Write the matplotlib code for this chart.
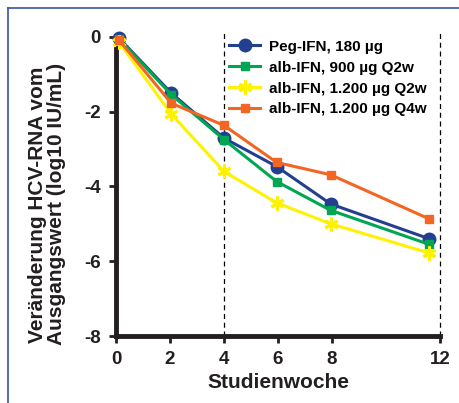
import matplotlib.pyplot as plt
from matplotlib.lines import Line2D

plt.rcParams["font.family"] = ["Liberation Sans", "DejaVu Sans"]
plt.rcParams["font.weight"] = "bold"
plt.rcParams["axes.unicode_minus"] = False

weeks = [0.1, 2.05, 4.0, 5.95, 7.95, 11.6]
peg_180 = [-0.03, -1.51, -2.71, -3.47, -4.47, -5.40]
alb_900_q2w = [-0.05, -1.55, -2.75, -3.87, -4.64, -5.55]
alb_1200_q2w = [-0.13, -2.07, -3.60, -4.44, -5.00, -5.78]
alb_1200_q4w = [-0.08, -1.78, -2.37, -3.36, -3.69, -4.87]

series_labels = [
    "Peg-IFN, 180 µg",
    "alb-IFN, 900 µg Q2w",
    "alb-IFN, 1.200 µg Q2w",
    "alb-IFN, 1.200 µg Q4w",
]
x_ticks = [0, 2, 4, 6, 8, 12]
y_ticks = [0, -2, -4, -6, -8]
dashed_weeks = [4, 12]

fig = plt.figure(figsize=(4.59, 4.03), dpi=100)
ax = fig.add_axes([0.2527, 0.166, 0.706, 0.743])

# thin blue frame round the figure (only top/left visible)
fig.add_artist(Line2D([8 / 459, 8 / 459], [0, 1 - 8 / 403], color="#3556A6", lw=1.2))
fig.add_artist(Line2D([8 / 459, 1], [1 - 8 / 403, 1 - 8 / 403], color="#3556A6", lw=1.2))

for xv in dashed_weeks:
    ax.plot([xv, xv], [-8, 0.1], color="black", lw=0.9, ls=(0, (4, 3)), clip_on=False, zorder=1)

styles = [
    (peg_180, "#233F90", "o", 9, 1),
    (alb_900_q2w, "#00A651", "s", 6, 1),
    (alb_1200_q2w, "#FFF200", (6, 2, 0), 10, 2.2),
    (alb_1200_q4w, "#F26522", "s", 6, 1),
]
for (vals, col, mk, ms, mew), lab in zip(styles, series_labels):
    ax.plot(weeks, vals, color=col, marker=mk, ms=ms, lw=2.2, mew=mew,
            label=lab, clip_on=False, zorder=3)

ax.set_xlim(0, 12)
ax.set_ylim(-8, 0)
ax.set_xticks(x_ticks)
ax.set_yticks(y_ticks)
ax.tick_params(labelsize=13.5, width=2, length=5, pad=6, colors="#231F20")
for s in ["top", "right"]:
    ax.spines[s].set_visible(False)
for s in ["left", "bottom"]:
    ax.spines[s].set_linewidth(3.5)
    ax.spines[s].set_color("#231F20")

ax.set_xlabel("Studienwoche", fontsize=15, fontweight="bold", labelpad=3, color="#231F20")
ax.set_ylabel("Veränderung HCV-RNA vom\nAusgangswert (log10 IU/mL)", fontsize=15,
              fontweight="bold", linespacing=1.0, color="#231F20")
ax.yaxis.set_label_coords(-0.155, 0.44)

ax.legend(loc="upper left", bbox_to_anchor=(0.331, 1.01), frameon=False, fontsize=11,
          handlelength=2.0, handletextpad=0.6, labelspacing=0.45, borderaxespad=0)

fig.savefig("out.png", dpi=100)
